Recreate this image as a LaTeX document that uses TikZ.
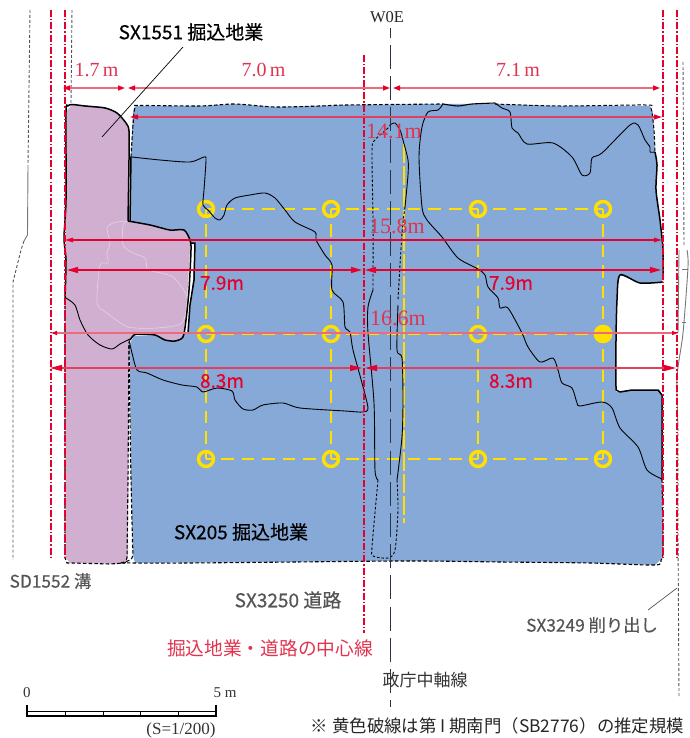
\documentclass[tikz,border=0pt]{standalone}
\usepackage{fontspec}
\usetikzlibrary{arrows.meta}
\setmainfont{Liberation Serif}
\newfontfamily\cjk{Noto Sans CJK JP}
\newfontfamily\cjkm[FakeBold=0.5]{Noto Sans CJK JP}
\definecolor{siteblue}{HTML}{87A9D7}
\definecolor{sitepurple}{HTML}{D0AFD1}
\definecolor{goldline}{HTML}{FFE000}
\definecolor{dimred}{HTML}{E6002D}
\definecolor{dimpink}{HTML}{EC6A7C}
\definecolor{dimrose}{HTML}{E0405F}
\definecolor{labred}{HTML}{E0334F}
\definecolor{graytext}{HTML}{555555}
\tikzset{
  curve/.style={smooth,tension=.45},
  edgethick/.style={draw=black,line width=1.5pt,line join=round},
  edgedash/.style={draw=black,line width=1.1pt,dash pattern=on 3.5pt off 2.2pt},
  contour/.style={draw=black,line width=.9pt,line join=round},
  contourdash/.style={draw=black,line width=.9pt,dash pattern=on 2.5pt off 2pt},
  redaxis/.style={draw=dimred,line width=1.1pt,dash pattern=on 7pt off 2pt on 1.5pt off 2pt},
  gray dash/.style={draw=graytext,line width=.9pt,dash pattern=on 3pt off 2pt},
  gray solid/.style={draw=graytext!80,line width=.9pt},
  grid line/.style={draw=goldline,line width=2.6pt,dash pattern=on 12.6pt off 8pt},
  stub/.style={draw=goldline,line width=2pt},
  post/.style={draw=goldline,line width=3.4pt},
  dimA/.style={draw=dimpink,line width=1.4pt,{Triangle[length=7pt,width=5pt,color=dimred]}-{Triangle[length=7pt,width=5pt,color=dimred]}},
  dimB/.style={draw=dimrose,line width=1.1pt,{Triangle[length=8pt,width=5pt,color=dimred]}-{Triangle[length=8pt,width=5pt,color=dimred]}},
  dimC/.style={draw=dimred,line width=1.1pt,{Triangle[length=8pt,width=4.5pt,color=dimred]}-{Triangle[length=8pt,width=4.5pt,color=dimred]}},
  dimD/.style={draw=dimred,line width=1.1pt,{Triangle[length=11pt,width=6pt,color=dimred]}-{Triangle[length=11pt,width=6pt,color=dimred]}},
  dimE/.style={draw=dimpink,line width=1.2pt,{Triangle[length=6pt,width=4pt,color=dimred]}-{Triangle[length=6pt,width=4pt,color=dimred]}},
  dimF/.style={draw=dimrose,line width=1.3pt,{Triangle[length=12pt,width=6pt,color=dimred]}-{Triangle[length=12pt,width=6pt,color=dimred]}},
  serif dim/.style={text=labred,font=\fontsize{20}{20}\selectfont,inner sep=0pt},
  serif total/.style={text=labred,font=\fontsize{22}{22}\selectfont,inner sep=0pt},
  sans dim/.style={text=dimred,font=\cjkm\fontsize{19}{19}\selectfont,inner sep=0pt},
  black label/.style={text=black,font=\cjkm\fontsize{19}{19}\selectfont,inner sep=0pt},
  gray label/.style={text=graytext,inner sep=0pt},
}
\begin{document}
\begin{tikzpicture}[x=1pt,y=-1pt]
\useasboundingbox (0,0) rectangle (689,738);
% --- blue ground
\fill[siteblue] (133,112)--(135,106)--(200,106)--(235,104)--(275,107)--(345,105)--(443,104)--(495,104)--(560,106)--(650,106)--(653,112)--(655,150)--(657,165)--(656,190)--(660,220)--(663,250)--(662,283)--(640,283)--(620,275)--(617,290)--(616,340)--(616,392)--(632,390)--(660,390)--(662,400)--(662,480)--(663,555)--(660,560)--(655,565)--(590,563)--(500,562)--(400,561)--(135,563)--(133,555)--(131,480)--(130,370)--(129,345)--(134,336)--(188,333)--(193,280)--(195,243)--(190,243)--(186,232)--(130,222)--(131,157)--cycle;
% --- purple ground
\fill[sitepurple] (66,112)--(72,104.5)--(105,107)--(117,113)--(126,123)--(129,131)--(128,221)--(170,230)--(184,230)--(190,240)--(190,250)--(187,300)--(184,332)--(180,340)--(170,341)--(155,335)--(134,335)--(129,342)--(128,555)--(126,562)--(123,564)--(70,563)--(66,558)--(65,300)--(66,200)--(64,238)--cycle;
% --- faint contour in the purple ground
\draw[white!45!sitepurple,line width=.6pt] plot[smooth cycle,tension=.4] coordinates {(127,221)(113,223)(107,228)(110,243)(107,253)(108,263)(100,265)(97,303)(107,313)(128,327)(157,328)(182,323)(187,297)(173,277)(152,271)(147,268)(145,258)(133,253)(123,245)(123,225)};
% --- yellow grid
\foreach \yy in {209,334,459} {
  \draw[grid line] (221,\yy) -- (316,\yy);
  \draw[grid line] (346,\yy) -- (463,\yy);
  \draw[grid line] (493,\yy) -- (588,\yy);
}
\foreach \xx in {206,331,478,603} {
  \draw[grid line] (\xx,224) -- (\xx,319);
  \draw[grid line] (\xx,349) -- (\xx,444);
}
\foreach \xx/\dx in {206/7,331/7,478/-7,603/-7} {
  \draw[stub] (\xx,209) -- ++(\dx,0);
  \draw[stub] (\xx,209) -- ++(0,7);
}
\foreach \xx/\dx in {206/7,331/7,478/-7,603/-7} {
  \draw[stub] (\xx,459) -- ++(\dx,0);
  \draw[stub] (\xx,459) -- ++(0,-7);
}
\draw[stub] (206,334) -- ++(7,0);
\draw[stub] (331,334) -- ++(-7,0);
\draw[stub] (478,334) -- ++(7,0);
\foreach \xx in {206,331,478,603} \foreach \yy in {209,334,459} \draw[post] (\xx,\yy) circle (7.5);
\fill[goldline] (603,334) circle (9.2);
\draw[goldline,line width=1.3pt,dash pattern=on 19pt off 3pt] (404,144) -- (404,523);
% --- outlines of the blue ground
\draw[edgedash] plot[curve] coordinates {(131,157)(133,125)(135,107)(140,105.5)(200,106)(235,104)(275,107)(320,106)(345,105)(443,104)};
\draw[edgedash,line width=1pt] plot[curve] coordinates {(495,104)(560,106)(645,105)(651,108)(654,130)(655,152)};
\draw[edgethick] plot[curve] coordinates {(655,152)(657,165)(656,190)(660,220)(663,250)(663,280)};
\draw[edgethick] plot[curve] coordinates {(663,282)(640,283)(620,275)(617,300)(616,340)(616,390)};
\draw[edgethick] (616,390) -- (620,392) -- (632,390) -- (658,390) -- (662,395) -- (662,479);
\draw[edgedash] plot[curve] coordinates {(662,479)(663,550)(661,560)(655,565)(590,563)(500,562)(400,561)(135,563)(133,555)(131,480)(130,420)(129,345)};
\draw[edgethick] (131,157) -- (130,222);
\draw[edgethick] (190,243) -- (195,243) -- (194,280) -- (190,305) -- (188,333) -- (184,333);
% --- outlines of the purple ground
\draw[edgethick] plot[curve] coordinates {(65,298)(66,260)(64,238)(66,200)(66,112)(68,106)(72,104.5)(85,106)(105,108)(117,113)(126,123)(129,131)(129,160)(128,221)};
\draw[edgethick] plot[curve] coordinates {(128,221)(150,225)(170,230)(184,230)(190,240)(191,250)(189,290)(186,320)(183,337)(175,341)(165,340)(155,335)(140,334)(134,335)(130,340)};
\draw[edgedash] (65,300) -- (65,558) -- (67,563) -- (72,563) -- (110,564) -- (125,563) -- (127,558) -- (128,480) -- (129,342);
\draw[contour] plot[curve] coordinates {(66,298)(75,305)(80,320)(88,335)(100,345)(112,349)(120,344)(130,339)};
% --- internal contours
\draw[contour] plot[curve] coordinates {(132,157)(160,160)(190,162)(204,157)(206,160)(204,190)(203,205)(208,210)(215,218)(220,220)(224,215)(227,205)(235,198)(250,195)(265,193)(275,198)(285,210)(295,222)(315,232)(316,240)(325,255)(332,265)(332,290)(343,302)(345,327)(350,332)(353,350)(362,383)(368,408)(363,412)(345,411)(300,408)(283,403)(263,405)(253,410)(243,409)(235,400)(232,391)(217,388)(203,392)(197,387)(182,385)(163,380)(147,373)(137,370)(132,353)(129,340)};
\draw[contour] plot[curve] coordinates {(390,125)(395,123)(400,130)(403,140)(408,160)(408,175)(405,207)};
\draw[contourdash] plot[curve] coordinates {(405,207)(402,233)(398,300)};
\draw[contour] plot[curve] coordinates {(398,305)(397,350)(402,358)(403,400)(402,437)(397,480)};
\draw[contourdash] plot[curve] coordinates {(397,480)(398,510)(395,550)(388,558)(373,556)(372,547)(378,480)};
\draw[contour] plot[curve] coordinates {(378,480)(375,470)(374,403)(368,333)(368,307)(373,290)};
\draw[contourdash] plot[curve] coordinates {(373,290)(373,220)(372,150)(375,140)(388,128)(390,125)};
\draw[contour] plot[curve] coordinates {(443,104)(438,110)(428,112)(422,127)(419,157)(422,207)(427,220)(442,237)(458,258)(478,269)(485,275)(488,287)(498,298)(500,308)(508,308)(522,333)(528,347)(540,362)(553,358)(558,370)(562,383)(572,388)(577,403)(580,406)(602,402)(612,408)(620,428)(638,447)(647,470)(662,479)};
\draw[edgethick,line width=1.1pt] plot[curve] coordinates {(443,104)(458,106)(472,104)(495,103)};
\draw[contour] plot[curve] coordinates {(495,103)(502,108)(510,112)(512,128)(518,133)(527,144)(553,143)(572,157)(582,175)(590,173)(592,158)(602,153)(630,125)(638,125)(645,140)(650,147)(650,152)(655,152)};
% --- central axis
\coordinate (axisT) at (390.5,28);
\coordinate (axisS) at (390.5,38);
\coordinate (axisM) at (390.5,45);
\coordinate (axisB) at (390.5,707);
\draw[black!70!siteblue,line width=1.2pt] (axisT) -- (axisS);
\draw[black!70!siteblue,line width=1.2pt,dash pattern=on 24pt off 7.2pt] (axisM) -- (axisB);
% --- survey lines at the margins
\draw[gray dash] (30,10) -- (28,165);
\draw[gray solid] (28,165) -- (27.5,235) -- (24,241);
\draw[gray dash] plot coordinates {(24,241)(21,250)(13,282)(13,560)};
\draw[gray dash] (72,10) -- (71,104);
\draw[gray dash] (683,62) -- (684,245);
\draw[gray solid] plot[curve] coordinates {(687,250)(688,267)(683,333)(677,377)(678,427)};
\draw[gray solid] (679,250) -- (678,333);
\draw[gray solid] (682,269) -- (688,269);
\draw[gray solid] (682,322) -- (686,322);
\draw[gray dash] (678,428) -- (678,537) -- (679,697);
% --- red centre lines
\draw[redaxis] (51,10) -- (51,558);
\draw[redaxis] (65,10) -- (65,558);
\draw[redaxis] (364,55) -- (364,633);
\draw[redaxis] (663,10) -- (663,558);
\draw[redaxis] (677,10) -- (677,558);
% --- dimensions
\coordinate (a1) at (63,88); \coordinate (a2) at (125,88);
\coordinate (a3) at (128,88); \coordinate (a4) at (390,88);
\coordinate (a5) at (393,88); \coordinate (a6) at (660,88);
\draw[dimA] (a1) -- (a2); \draw[dimA] (a3) -- (a4); \draw[dimA] (a5) -- (a6);
\coordinate (b1) at (130,117); \coordinate (b2) at (662,117);
\draw[dimB] (b1) -- (b2);
\coordinate (c1) at (65,240); \coordinate (c2) at (662,240);
\draw[dimC] (c1) -- (c2);
\coordinate (d1) at (67,270); \coordinate (d2) at (362,270);
\coordinate (d3) at (365,270); \coordinate (d4) at (661,270);
\draw[dimD] (d1) -- (d2); \draw[dimD] (d3) -- (d4);
\coordinate (e1) at (51,333); \coordinate (e2) at (678,333);
\draw[dimE] (e1) -- (e2);
\coordinate (f1) at (50,368); \coordinate (f2) at (362,368);
\coordinate (f3) at (365,368); \coordinate (f4) at (676,368);
\draw[dimF] (f1) -- (f2); \draw[dimF] (f3) -- (f4);
% --- labels
\node[serif dim] (l17) at (96.5,70) {1.7\,m};
\node[serif dim] (l70) at (263.5,70) {7.0\,m};
\node[serif dim] (l71) at (518,70) {7.1\,m};
\node[serif total] (l141) at (394,131) {14.1m};
\node[serif total] (l158) at (397,226) {15.8m};
\node[serif total] (l166) at (398,318) {16.6m};
\node[sans dim] (l79a) at (222,283) {7.9m};
\node[sans dim] (l79b) at (511,283) {7.9m};
\node[sans dim] (l83a) at (222,381) {8.3m};
\node[sans dim] (l83b) at (511,381) {8.3m};
\node[black label] (sx1551) at (191,32) {SX1551 掘込地業};
\coordinate (sx1551p) at (102,137);
\draw[black,line width=.7pt] (183,47) -- (sx1551p);
\node[black label] (sx205) at (241,532) {SX205 掘込地業};
\node[gray label,font=\cjkm\fontsize{17.3}{17.3}\selectfont] (sd1552) at (50.5,581) {SD1552 溝};
\node[gray label,font=\cjkm\fontsize{19}{19}\selectfont] (sx3250) at (288,600) {SX3250 道路};
\node[inner sep=0pt,text=labred,font=\cjk\fontsize{18.7}{18.7}\selectfont] (center) at (270,648) {掘込地業・道路の中心線};
\node[gray label,font=\cjkm\fontsize{17.3}{17.3}\selectfont] (sx3249) at (592,625) {SX3249 削り出し};
\coordinate (sx3249p) at (677,588);
\draw[graytext,line width=.7pt] (648,610) -- (sx3249p);
\node[inner sep=0pt,text=black!80,font=\cjk\fontsize{17}{17}\selectfont] (axisname) at (425,680) {政庁中軸線};
\node[inner sep=0pt,text=black!85,font=\fontsize{16.5}{16.5}\selectfont] (woe) at (387,17) {W0E};
\node[inner sep=0pt,text=black!85,font=\cjk\fontsize{17.4}{17.4}\selectfont] (note) at (497.5,726) {※ 黄色破線は第 I 期南門（SB2776）の推定規模};
% --- scale bar
\node[inner sep=0pt,text=black!80,font=\fontsize{15}{15}\selectfont] (s0) at (27,693) {0};
\node[inner sep=0pt,text=black!80,font=\fontsize{15}{15}\selectfont] (s5) at (225,693) {5 m};
\node[inner sep=0pt,text=black!80,font=\fontsize{17}{17}\selectfont] (sc) at (181,730) {(S=1/200)};
\draw[black,line width=1pt] (27,711) -- (216,711);
\draw[black,line width=1.3pt] (27,716) -- (216,716);
\draw[black,line width=1.2pt] (27,705) -- (27,716.5);
\draw[black,line width=1.2pt] (216,705) -- (216,716.5);
\foreach \xx in {65,103,140,178} \draw[black,line width=.8pt] (\xx,711) -- (\xx,716);
\end{tikzpicture}
\end{document}
